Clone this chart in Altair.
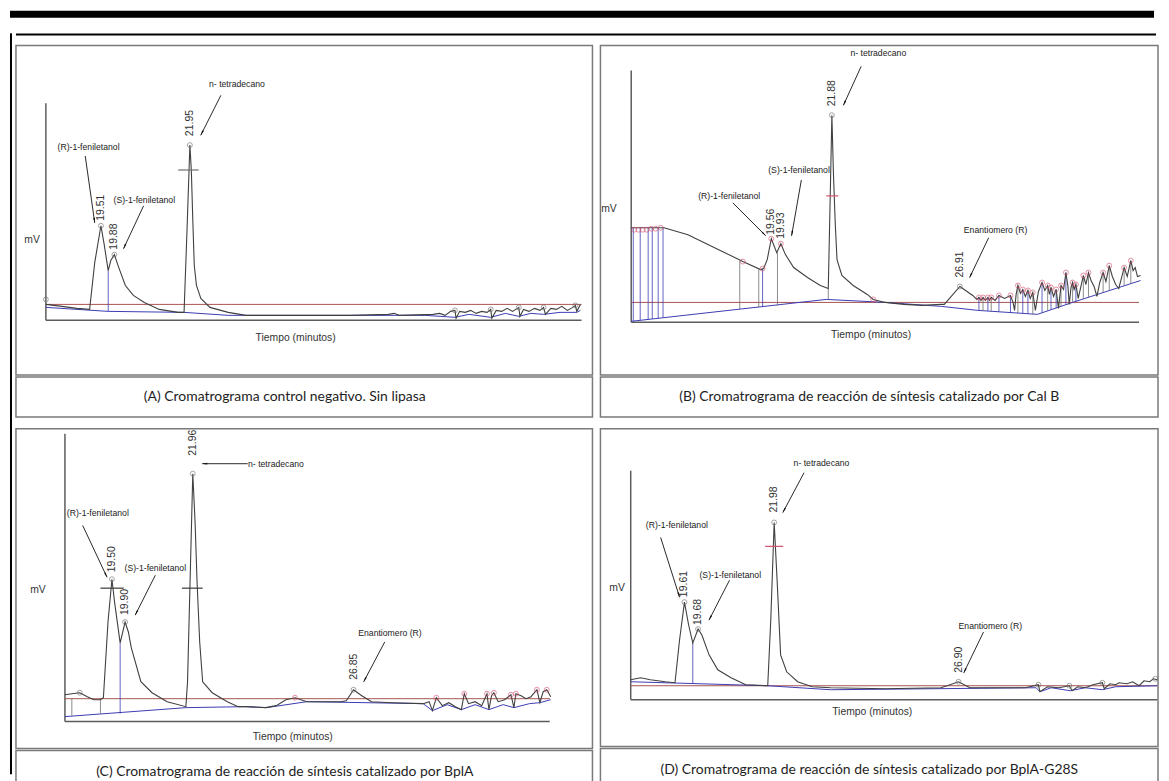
import math
import altair as alt
import pandas as pd

# ---------------------------------------------------------------- Panel A
A_trace = [(18.00, 16), (18.44, 14), (18.85, 12), (19.20, 11), (19.34, 58), (19.51, 95),
           (19.60, 76), (19.71, 50), (19.78, 60), (19.88, 66), (19.98, 55), (20.18, 35),
           (20.40, 25), (20.70, 18), (21.11, 11), (21.63, 8), (21.79, 8), (21.87, 90),
           (21.95, 176), (21.99, 150), (22.03, 100), (22.07, 55), (22.13, 35), (22.25, 22),
           (22.50, 13), (23.00, 8), (23.49, 5), (23.98, 5), (25.00, 5), (26.35, 5),
           (27.39, 6), (27.55, 7), (27.69, 5), (28.62, 6), (28.80, 7), (28.95, 5),
           (29.10, 9), (29.22, 10), (29.25, 2), (29.35, 9), (29.50, 8), (29.65, 10),
           (29.80, 7), (29.95, 9), (30.10, 8), (30.20, 11), (30.23, 2), (30.35, 10),
           (30.50, 9), (30.65, 12), (30.80, 9), (30.97, 13), (31.00, 4), (31.10, 11),
           (31.25, 9), (31.40, 12), (31.55, 10), (31.65, 13), (31.70, 6), (31.85, 12),
           (32.00, 11), (32.15, 14), (32.30, 10), (32.45, 13), (32.52, 15), (32.56, 9),
           (32.66, 16)]
A_base = [(18.00, 13), (19.71, 9), (21.79, 8), (23.00, 5), (28.40, 5), (29.22, 3),
          (29.60, 6), (30.20, 3), (30.60, 7), (30.97, 4), (31.30, 7), (31.65, 6),
          (32.10, 8), (32.56, 8), (32.66, 10)]
A_drops = [(19.71, 50, 9, "blue")]
A_cross = [(21.63, 22.19, 151, "gray")]
A_circles = [(18.00, 21, "gray"), (19.51, 95, "gray"), (19.88, 66, "gray"), (21.95, 176, "gray"),
             (29.22, 10, "gray"), (30.20, 11, "gray"), (30.97, 13, "gray"), (31.65, 13, "gray"),
             (32.52, 15, "gray")]
A_peak_labels = [("19.51", 19.51, 100), ("19.88", 19.88, 71), ("21.95", 21.95, 185)]
A_notes = [("(R)-1-feniletanol", 19.17, 174), ("(S)-1-feniletanol", 20.70, 121),
           ("n- tetradecano", 23.24, 237)]
A_arrows = [(19.08, 165, 19.34, 98), (20.68, 115, 20.13, 72), (22.80, 226, 22.25, 186)]
A_axis = (18.00, 32.69, 218)
A_redline = 16
A_titles = [("mV", 17.62, 81), ("Tiempo (minutos)", 24.85, -18)]
A_caption = "(A) Cromatrograma control negativo. Sin lipasa"

# ---------------------------------------------------------------- Panel B
B_trace = [(14.10, 95), (14.22, 95), (14.45, 95), (14.76, 95), (14.92, 95), (15.15, 95),
           (15.38, 95), (16.31, 88), (17.59, 72), (18.45, 61), (19.14, 53), (19.26, 54),
           (19.40, 63), (19.56, 84), (19.77, 70), (19.93, 79), (20.11, 68), (20.43, 55),
           (20.97, 45), (21.47, 37), (21.78, 34), (21.85, 120), (21.92, 208), (21.98, 150),
           (22.05, 100), (22.12, 63), (22.31, 47), (22.75, 37), (23.30, 28), (23.53, 23),
           (24.00, 20), (24.73, 18), (25.43, 17), (26.17, 18), (26.30, 18), (26.91, 36),
           (27.41, 27), (27.57, 23),
           (27.65, 25), (27.73, 22), (27.81, 25), (27.90, 22), (28.00, 25), (28.06, 22),
           (28.13, 25), (28.28, 22), (28.43, 27), (28.65, 24), (28.88, 27), (28.98, 20),
           (29.04, 12), (29.10, 28), (29.17, 37), (29.27, 29), (29.36, 33), (29.46, 26),
           (29.56, 32), (29.65, 24), (29.75, 30), (29.85, 12), (29.97, 31), (30.11, 40),
           (30.22, 32), (30.33, 37), (30.40, 28), (30.46, 35), (30.56, 26), (30.66, 33),
           (30.75, 14), (30.85, 37), (30.95, 33), (31.04, 50), (31.12, 36), (31.17, 18),
           (31.24, 35), (31.30, 40), (31.36, 33), (31.43, 38), (31.52, 24), (31.60, 33),
           (31.72, 47), (31.82, 38), (31.92, 50), (32.02, 42), (32.14, 36), (32.25, 26),
           (32.36, 40), (32.49, 50), (32.60, 41), (32.73, 57), (32.85, 46), (32.98, 38),
           (33.10, 34), (33.20, 44), (33.31, 55), (33.43, 46), (33.57, 62), (33.66, 52),
           (33.74, 55), (33.83, 46), (33.95, 47)]
B_base = [(14.10, 1), (21.70, 23), (24.00, 20), (26.20, 16), (27.60, 12), (29.93, 8),
          (31.30, 20), (33.95, 42)]
B_drops = [(14.18, 95, 1.2, "blue"), (14.45, 95, 2, "blue"), (14.76, 95, 3, "blue"),
           (14.92, 95, 3.5, "blue"), (15.15, 95, 4.2, "blue"), (15.34, 95, 4.7, "blue"),
           (18.33, 62, 13, "gray"), (19.07, 53, 15, "gray"), (19.22, 54, 15.5, "blue"),
           (19.80, 70, 17, "gray"), (21.78, 34, 23, "gray"),
           (27.65, 25, 12, "blue"), (27.81, 25, 11.6, "gray"), (28.00, 25, 11.3, "blue"),
           (28.13, 25, 11.1, "gray"), (28.43, 27, 10.6, "blue"), (28.88, 27, 9.8, "blue"),
           (29.17, 37, 9.3, "gray"), (29.36, 33, 9, "blue"), (29.56, 32, 8.6, "blue"),
           (29.75, 30, 8.3, "gray"), (30.11, 40, 9.6, "blue"), (30.33, 37, 11.5, "gray"),
           (30.46, 35, 12.7, "blue"), (30.66, 33, 14.4, "blue"), (30.85, 37, 16.1, "gray"),
           (31.04, 50, 17.7, "blue"), (31.30, 40, 20, "gray"), (31.43, 38, 21.1, "blue"),
           (31.72, 47, 23.5, "gray"), (31.92, 50, 25.2, "gray"), (32.49, 50, 29.9, "gray"),
           (32.73, 57, 31.9, "gray"), (33.31, 55, 36.7, "gray"), (33.57, 62, 38.9, "gray")]
B_cross = [(21.70, 22.17, 127, "red")]
B_circles = [(14.22, 93, "red"), (14.38, 93, "red"), (14.55, 93, "red"), (14.70, 93, "red"),
             (14.88, 94, "red"), (15.05, 94, "red"), (15.25, 95, "red"), (18.45, 61, "red"),
             (19.22, 54, "red"), (19.56, 84, "red"), (19.93, 79, "red"), (23.53, 23, "red"),
             (21.92, 208, "gray"), (26.91, 36, "gray"),
             (27.65, 25, "red"), (27.81, 25, "red"), (28.00, 25, "red"), (28.13, 25, "red"),
             (28.43, 27, "red"), (28.88, 27, "red"), (29.17, 37, "red"), (29.36, 33, "red"),
             (29.56, 32, "red"), (29.75, 30, "red"), (30.11, 40, "red"), (30.33, 37, "red"),
             (30.46, 35, "red"), (30.66, 33, "red"), (30.85, 37, "red"), (31.04, 50, "red"),
             (31.30, 40, "red"), (31.43, 38, "red"), (31.72, 47, "red"), (31.92, 50, "red"),
             (32.49, 50, "red"), (32.73, 57, "red"), (33.31, 55, "red"), (33.57, 62, "red")]
B_peak_labels = [("19.56", 19.56, 88), ("19.93", 19.93, 84), ("21.88", 21.92, 217),
                 ("26.91", 26.91, 45)]
B_notes = [("n- tetradecano", 23.73, 270), ("(S)-1-feniletanol", 20.64, 153),
           ("(R)-1-feniletanol", 17.92, 127), ("Enantiomero (R)", 28.30, 93)]
B_arrows = [(23.06, 257, 22.37, 218), (20.73, 143, 20.35, 87), (18.06, 120, 19.34, 87),
            (28.03, 85, 27.29, 45)]
B_axis = (14.10, 33.89, 253)
B_redline = 20
B_titles = [("mV", 13.23, 114), ("Tiempo (minutos)", 23.45, -13)]
B_caption = "(B) Cromatrograma de reacción de síntesis catalizado por Cal B"

# ---------------------------------------------------------------- Panel C
C_trace = [(18.07, 27), (18.28, 28), (18.52, 29), (18.75, 25), (18.95, 22), (19.15, 22),
           (19.24, 24), (19.38, 100), (19.50, 143), (19.58, 120), (19.75, 79), (19.90, 100),
           (20.00, 90), (20.09, 74), (20.38, 40), (20.72, 29), (21.18, 20), (21.75, 15),
           (21.80, 40), (21.96, 249), (22.03, 200), (22.09, 140), (22.17, 80), (22.26, 40),
           (22.55, 29), (23.01, 20), (23.34, 15), (23.58, 15), (24.17, 14), (24.50, 16),
           (24.79, 22), (25.07, 24), (25.43, 20), (26.00, 20), (26.46, 20), (26.63, 21),
           (26.85, 32), (27.10, 26), (27.40, 20), (28.04, 19), (28.97, 18), (29.15, 20),
           (29.25, 11), (29.37, 24), (29.55, 16), (29.75, 19), (29.95, 15), (30.13, 12),
           (30.22, 28), (30.35, 18), (30.55, 20), (30.75, 16), (30.91, 28), (30.97, 12),
           (31.05, 26), (31.12, 29), (31.25, 20), (31.45, 22), (31.64, 27), (31.73, 14),
           (31.79, 28), (31.95, 26), (32.10, 23), (32.25, 25), (32.43, 32), (32.52, 19),
           (32.62, 30), (32.73, 32), (32.85, 25)]
C_base = [(18.07, 5), (21.75, 14), (23.55, 15), (24.20, 14), (25.43, 20), (28.97, 18),
          (29.25, 11), (29.70, 17), (30.13, 12), (30.55, 17), (30.97, 12), (31.40, 17),
          (31.73, 14), (32.20, 18), (32.52, 19), (32.85, 22)]
C_drops = [(18.28, 23, 6, "gray"), (19.15, 22, 8, "gray"), (19.75, 79, 8, "blue")]
C_cross = [(19.15, 19.86, 134, "dark"), (21.63, 22.26, 134, "dark")]
C_circles = [(18.52, 29, "gray"), (19.50, 143, "gray"), (19.90, 100, "gray"),
             (21.96, 249, "gray"), (26.85, 32, "gray"), (25.07, 24, "red"),
             (29.37, 24, "red"), (30.22, 28, "red"), (30.91, 28, "red"), (31.12, 29, "red"),
             (31.64, 27, "red"), (31.79, 28, "red"), (32.43, 32, "red"), (32.73, 32, "red")]
C_peak_labels = [("19.50", 19.50, 150), ("19.90", 19.90, 107), ("21.96", 21.96, 267),
                 ("26.85", 26.85, 42)]
C_notes = [("n- tetradecano", 24.49, 259), ("(R)-1-feniletanol", 19.07, 209),
           ("(S)-1-feniletanol", 20.82, 154), ("Enantiomero (R)", 27.96, 89)]
C_arrows = [(23.63, 259, 22.25, 259), (18.61, 197, 19.35, 145), (20.82, 147, 20.21, 107),
            (27.80, 80, 27.16, 40)]
C_axis = (18.07, 32.82, 289)
C_redline = 23
C_titles = [("mV", 17.25, 132), ("Tiempo (minutos)", 25.00, -15)]
C_caption = "(C) Cromatrograma de reacción de síntesis catalizado por BplA"

# ---------------------------------------------------------------- Panel D
D_trace = [(18.19, 20), (18.45, 22), (18.71, 20), (19.10, 18), (19.36, 17), (19.48, 60),
           (19.61, 98), (19.72, 75), (19.83, 57), (19.97, 71), (20.07, 65), (20.26, 45),
           (20.49, 30), (20.84, 22), (21.23, 15), (21.81, 14), (21.89, 80), (21.98, 178),
           (22.06, 118), (22.15, 45), (22.31, 28), (22.60, 18), (22.98, 13), (23.47, 12),
           (24.91, 11), (26.38, 12), (26.55, 14), (26.85, 18), (27.15, 12), (27.83, 12),
           (28.62, 12), (28.96, 15), (29.00, 8), (29.20, 13), (29.50, 12), (29.78, 14),
           (29.85, 9), (30.00, 13), (30.20, 12), (30.40, 15), (30.65, 17), (30.70, 11),
           (30.85, 16), (31.00, 15), (31.09, 17), (31.30, 16), (31.45, 18), (31.62, 14),
           (31.75, 19), (31.90, 18), (32.00, 21), (32.10, 20)]
D_base = [(18.19, 18), (21.81, 14), (23.47, 10), (28.90, 12), (29.00, 8), (29.30, 12),
          (29.80, 9), (30.20, 12), (30.65, 10), (31.00, 13), (32.10, 14)]
D_drops = [(19.83, 57, 16, "blue")]
D_cross = [(21.74, 22.22, 154, "red")]
D_circles = [(19.61, 98, "gray"), (19.97, 71, "gray"), (21.98, 178, "gray"),
             (26.85, 18, "gray"), (28.96, 15, "gray"), (29.78, 14, "gray"),
             (30.65, 17, "gray"), (32.05, 21, "gray")]
D_peak_labels = [("19.61", 19.61, 103), ("19.68", 19.97, 75), ("21.98", 21.98, 188),
                 ("26.90", 26.85, 27)]
D_notes = [("n- tetradecano", 23.23, 238), ("(R)-1-feniletanol", 19.41, 175),
           ("(S)-1-feniletanol", 20.82, 125), ("Enantiomero (R)", 27.69, 74)]
D_arrows = [(22.77, 228, 22.21, 188), (18.98, 163, 19.48, 103), (20.80, 120, 20.26, 80),
            (27.51, 68, 26.99, 27)]
D_axis = (18.19, 32.10, 230)
D_redline = 14
D_titles = [("mV", 17.83, 112), ("Tiempo (minutos)", 24.57, -12)]
D_caption = "(D) Cromatrograma de reacción de síntesis catalizado por BplA-G28S"

# ---------------------------------------------------------------- styling
SANS = "Liberation Sans"
CAPFONT = "Lato"
PALETTE = {"blue": "#3b3bb4", "gray": "#6e6e6e", "red": "#d4506c", "dark": "#3a3a3a"}
FRAME = "#7a7a7a"

LAYOUT = {
    "A": dict(w=579, h=331, xdom=[17.18, 32.99], ydom=[-55, 276], caph=40, capy=20),
    "B": dict(w=560, h=331, xdom=[12.90, 34.63], ydom=[-53, 278], caph=40, capy=20),
    "C": dict(w=579, h=321, xdom=[16.58, 34.12], ydom=[-27, 294], caph=32, capy=22),
    "D": dict(w=560, h=319, xdom=[17.39, 32.12], ydom=[-47, 272], caph=34, capy=22),
}
PANEL_VIEW = alt.ViewBackground(stroke=FRAME, strokeWidth=1.5)
NO_VIEW = alt.ViewBackground(stroke="transparent")


def frame(rows, cols):
    return pd.DataFrame(rows, columns=cols)


def colorize(rows, idx):
    out = []
    for r in rows:
        r = list(r)
        r[idx] = PALETTE[r[idx]]
        out.append(tuple(r))
    return out


def panel(L, trace, base, drops, cross, circles, peak_labels, notes, arrows, axis,
          redline, titles):
    W, H = L["w"], L["h"]
    xd, yd = L["xdom"], L["ydom"]
    xs = alt.Scale(domain=xd, nice=False, zero=False)
    ys = alt.Scale(domain=yd, nice=False, zero=False)
    X = alt.X("t:Q", scale=xs, axis=None)
    Y = alt.Y("v:Q", scale=ys, axis=None)
    sx = W / (xd[1] - xd[0])
    sy = H / (yd[1] - yd[0])
    t0, t1, ytop = axis

    layers = []
    ax = frame([(t0, 0, t1, 0), (t0, 0, t0, ytop)], ["t", "v", "t2", "v2"])
    layers.append(alt.Chart(ax).mark_rule(color="#5c5c5c", strokeWidth=1.5)
                  .encode(x=X, y=Y, x2="t2", y2="v2"))
    rl = frame([(t0, redline, t1, redline)], ["t", "v", "t2", "v2"])
    layers.append(alt.Chart(rl).mark_rule(color="#a85450", strokeWidth=1)
                  .encode(x=X, y=Y, x2="t2", y2="v2"))
    layers.append(alt.Chart(frame(base, ["t", "v"])).mark_line(color=PALETTE["blue"], strokeWidth=1)
                  .encode(x=X, y=Y))
    layers.append(alt.Chart(frame(colorize(drops, 3), ["t", "v", "v2", "c"]))
                  .mark_rule(strokeWidth=0.8)
                  .encode(x=X, y=Y, y2="v2", color=alt.Color("c:N", scale=None)))
    layers.append(alt.Chart(frame(trace, ["t", "v"])).mark_line(color="#404040", strokeWidth=1.1)
                  .encode(x=X, y=Y))
    layers.append(alt.Chart(frame(colorize(cross, 3), ["t", "t2", "v", "c"]))
                  .mark_rule(strokeWidth=1.2)
                  .encode(x=X, x2="t2", y=Y, color=alt.Color("c:N", scale=None)))
    layers.append(alt.Chart(frame(colorize(circles, 2), ["t", "v", "c"]))
                  .mark_point(shape="circle", filled=False, size=24, strokeWidth=0.9)
                  .encode(x=X, y=Y, color=alt.Color("c:N", scale=None)))
    layers.append(alt.Chart(frame(peak_labels, ["lab", "t", "v"]))
                  .mark_text(angle=270, align="left", baseline="middle", font=SANS,
                             fontSize=10.5, color="#333333")
                  .encode(x=X, y=Y, text="lab:N"))
    layers.append(alt.Chart(frame(notes, ["txt", "t", "v"]))
                  .mark_text(font=SANS, fontSize=8.7, color="#222222")
                  .encode(x=X, y=Y, text="txt:N"))
    layers.append(alt.Chart(frame(arrows, ["t", "v", "t2", "v2"]))
                  .mark_rule(color="#111111", strokeWidth=0.9)
                  .encode(x=X, y=Y, x2="t2", y2="v2"))
    heads = []
    for ta, va, tb, vb in arrows:
        dxp = (tb - ta) * sx
        dyp = -(vb - va) * sy
        ln = math.hypot(dxp, dyp)
        ang = math.degrees(math.atan2(dxp, -dyp)) % 360
        heads.append((tb - 3 * dxp / ln / sx, vb + 3 * dyp / ln / sy, ang))
    layers.append(alt.Chart(frame(heads, ["t", "v", "ang"]))
                  .mark_point(shape="wedge", filled=True, size=45, color="#111111", opacity=1)
                  .encode(x=X, y=Y, angle=alt.Angle("ang:Q", scale=None)))
    layers.append(alt.Chart(frame(titles, ["txt", "t", "v"]))
                  .mark_text(font=SANS, fontSize=10.4, color="#333333")
                  .encode(x=X, y=Y, text="txt:N"))
    return alt.layer(*layers).properties(width=W, height=H, view=PANEL_VIEW)


def caption(text, L):
    return (alt.Chart(pd.DataFrame({"cap": [text]}))
            .mark_text(font=CAPFONT, fontSize=14, color="#1e1e1e")
            .encode(x=alt.value(270), y=alt.value(L["capy"]), text="cap:N")
            .properties(width=L["w"], height=L["caph"], view=PANEL_VIEW))


def cell(key, caption_text, *args):
    L = LAYOUT[key]
    return alt.vconcat(panel(L, *args), caption(caption_text, L), spacing=0)


cellA = cell("A", A_caption, A_trace, A_base, A_drops, A_cross, A_circles, A_peak_labels,
             A_notes, A_arrows, A_axis, A_redline, A_titles)
cellB = cell("B", B_caption, B_trace, B_base, B_drops, B_cross, B_circles, B_peak_labels,
             B_notes, B_arrows, B_axis, B_redline, B_titles)
cellC = cell("C", C_caption, C_trace, C_base, C_drops, C_cross, C_circles, C_peak_labels,
             C_notes, C_arrows, C_axis, C_redline, C_titles)
cellD = cell("D", D_caption, D_trace, D_base, D_drops, D_cross, D_circles, D_peak_labels,
             D_notes, D_arrows, D_axis, D_redline, D_titles)

grid = alt.vconcat(alt.hconcat(cellA, cellB, spacing=6),
                   alt.hconcat(cellC, cellD, spacing=6), spacing=10)

one = pd.DataFrame({"k": [0]})
bar = (alt.Chart(one).mark_rect(color="black")
       .encode(x=alt.value(0), x2=alt.value(1149), y=alt.value(0), y2=alt.value(7))
       .properties(width=1149, height=7, view=NO_VIEW))
corner = alt.layer(
    alt.Chart(one).mark_rule(color="black", strokeWidth=2)
    .encode(x=alt.value(1), y=alt.value(0), y2=alt.value(744)),
    alt.Chart(one).mark_rule(color="black", strokeWidth=2)
    .encode(x=alt.value(0), x2=alt.value(2), y=alt.value(1)),
).properties(width=2, height=744, view=NO_VIEW)
hline = (alt.Chart(one).mark_rule(color="black", strokeWidth=2)
         .encode(x=alt.value(0), x2=alt.value(1145), y=alt.value(1))
         .properties(width=1145, height=10, view=NO_VIEW))

chart = (alt.vconcat(bar,
                     alt.hconcat(corner, alt.vconcat(hline, grid, spacing=0), spacing=0),
                     spacing=13)
         .properties(padding={"left": 0, "top": 0, "right": 0, "bottom": 0})
         .configure(background="white")
         .configure_view(stroke=FRAME, strokeWidth=1.5))

chart.save("out.html", embed_options={"renderer": "svg", "actions": False})
